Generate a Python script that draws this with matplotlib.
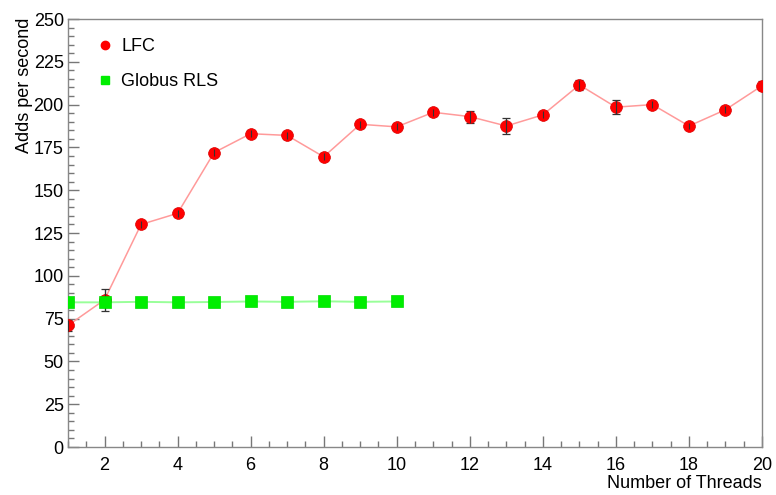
import matplotlib
matplotlib.use("Agg")
import matplotlib.pyplot as plt
from matplotlib.ticker import MultipleLocator
from matplotlib.lines import Line2D

plt.rcParams['font.family'] = ['Liberation Sans', 'DejaVu Sans']

threads_lfc = [1, 2, 3, 4, 5, 6, 7, 8, 9, 10, 11, 12, 13, 14, 15, 16, 17, 18, 19, 20]
lfc = [71, 86, 130, 136.5, 172, 183, 182, 169.5, 188.5, 187, 195.5, 193, 187.5, 194, 211.5, 198.5, 200, 187.5, 197, 211]
lfc_err = [3, 6.5, 2, 2, 2, 2, 2, 2, 2, 2, 2, 3.5, 4.5, 2, 3, 4, 2, 1.5, 2, 2.5]

threads_rls = [1, 2, 3, 4, 5, 6, 7, 8, 9, 10]
rls = [84.5, 84.5, 84.8, 84.5, 84.7, 85.0, 84.8, 85.1, 84.8, 85.0]

fig = plt.figure(figsize=(7.76, 4.95), dpi=100)
ax = fig.add_axes([68/776, 48/495, 694/776, 428/495])

ax.errorbar(threads_lfc, lfc, yerr=lfc_err, fmt='none', ecolor='#333333',
            elinewidth=0.9, capsize=3, capthick=0.9, zorder=3)
ax.plot(threads_lfc, lfc, color='#ff9a9a', lw=1.1, zorder=2)
ax.plot(threads_lfc, lfc, 'o', color='#ff0000', ms=8.5, mec='#dd0000', mew=0.5, zorder=4)
ax.errorbar(threads_lfc, lfc, yerr=lfc_err, fmt='none', ecolor='#333333',
            elinewidth=0.8, capsize=0, zorder=5)

ax.plot(threads_rls, rls, color='#99ff99', lw=1.4, zorder=2)
ax.plot(threads_rls, rls, 's', color='#00ee00', ms=8.5, mec='#00dd00', mew=0.5, zorder=6)

ax.set_xlim(1, 20)
ax.set_ylim(0, 250)
ax.xaxis.set_major_locator(MultipleLocator(2))
ax.xaxis.set_minor_locator(MultipleLocator(0.5))
ax.yaxis.set_major_locator(MultipleLocator(25))
ax.yaxis.set_minor_locator(MultipleLocator(5))
ax.tick_params(which='both', direction='in', top=False, right=False,
               color='#777777', labelsize=13, labelcolor='black')
ax.tick_params(which='major', length=8, width=1)
ax.tick_params(which='minor', length=4, width=1)
ax.tick_params(axis='x', pad=7)
ax.tick_params(axis='y', pad=3)
ax.set_xticks([2, 4, 6, 8, 10, 12, 14, 16, 18, 20])
for s in ax.spines.values():
    s.set_color('#888888')
    s.set_linewidth(1)

fig.text(762/776, 1 - 483/495, 'Number of Threads', ha='right', va='center', fontsize=13)
fig.text(25/776, 1 - 18/495, 'Adds per second', ha='center', va='top', rotation=90, fontsize=13)

handles = [Line2D([], [], marker='o', ls='none', color='#ff0000', ms=6),
           Line2D([], [], marker='s', ls='none', color='#00ee00', ms=6)]
ax.legend(handles, ['LFC', 'Globus RLS'], loc='upper left', frameon=False,
          fontsize=13, bbox_to_anchor=(0.017, 0.993), labelspacing=1.0,
          handletextpad=0.4, handlelength=1.0)

fig.savefig('out.png', dpi=100)
